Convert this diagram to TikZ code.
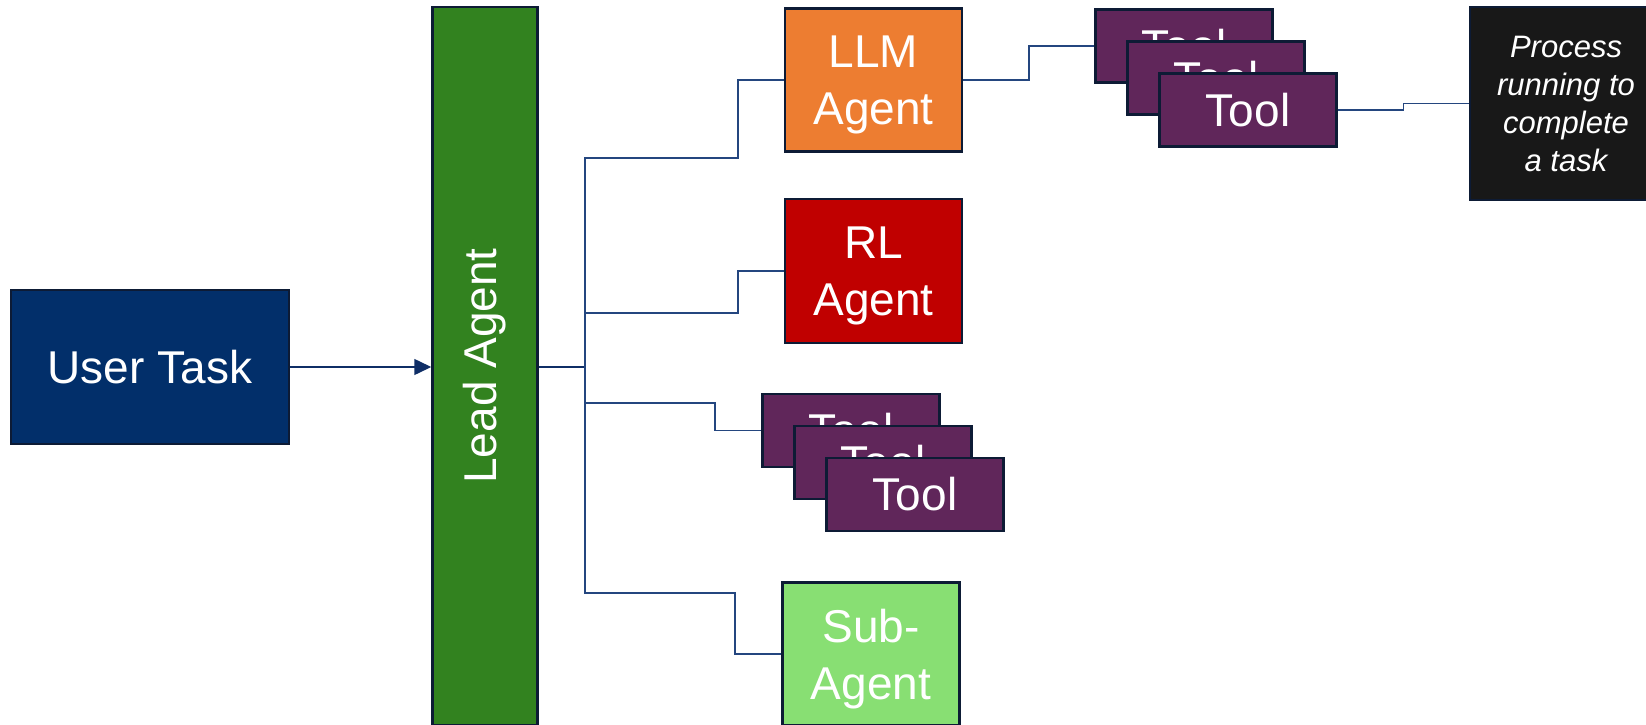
\documentclass[tikz,border=0pt]{standalone}
\usepackage{fontspec}
\setmainfont{Liberation Sans}
\usetikzlibrary{arrows.meta}

\definecolor{usernavy}{HTML}{022F6A}
\definecolor{leadgreen}{HTML}{32821F}
\definecolor{llmorange}{HTML}{ED7D31}
\definecolor{rlred}{HTML}{C00000}
\definecolor{toolpurple}{HTML}{60265A}
\definecolor{subgreen}{HTML}{88DF73}
\definecolor{procblack}{HTML}{181818}
\definecolor{edgenavy}{HTML}{0D1B35}
\definecolor{linkblue}{HTML}{24467F}
\definecolor{arrownavy}{HTML}{0F2E66}

\begin{document}
\begin{tikzpicture}[x=1pt, y=-1pt,
  box/.style={draw=edgenavy, line width=2.5pt, text=white, inner sep=0pt,
    align=center, font=\fontsize{46}{57}\selectfont},
  agentbox/.style={box, text depth=0pt, minimum width=177pt, minimum height=143pt},
  toolbox/.style={box, fill=toolpurple, minimum width=177pt, minimum height=73pt},
  link/.style={draw=linkblue, line width=1.5pt},
]
\useasboundingbox (0,0) rectangle (1646,725);
\clip (0,0) rectangle (1646,725);

% main blocks
\node[box, fill=usernavy, minimum width=278pt, minimum height=154pt] (user) at (150,367) {User Task};
\node[box, fill=leadgreen, minimum width=105pt, minimum height=718pt] (lead) at (485,366) {\rotatebox{90}{Lead Agent}};

% agents
\node[agentbox, fill=llmorange] (llm) at (873.5,80) {LLM\\Agent};
\node[agentbox, fill=rlred, minimum height=144pt] (rl) at (873.5,271) {RL\\Agent};
\node[agentbox, fill=subgreen] (sub) at (871,654) {Sub-\\Agent};

% stacked tools under the lead agent
\node[toolbox] (ma) at (851,430.5) {Tool};
\node[toolbox] (mb) at (883,462.5) {Tool};
\node[toolbox] (mc) at (915,494.5) {Tool};

% stacked tools used by the LLM agent
\node[toolbox] (ta) at (1184,46) {Tool};
\node[toolbox] (tb) at (1216,78) {Tool};
\node[toolbox] (tc) at (1248,110) {Tool};

% running process
\node[box, fill=procblack, minimum width=192pt, minimum height=193pt,
  font=\fontsize{31}{38}\selectfont\itshape] (proc) at (1566,103.5)
  {Process\\running to\\complete\\a task};

% connector bend points
\coordinate (trunk) at (585,367);
\coordinate (bllm) at (738,158);
\coordinate (brl) at (738,313);
\coordinate (btool) at (715,403);
\coordinate (bsub) at (735,593);
\coordinate (btop) at (1029,80);
\coordinate (bproc) at (1403.5,110);

% connectors
\draw[link, draw=arrownavy, -{Triangle[length=17pt,width=16pt]}] (user.east) -- (user.east -| lead.west);
\draw[link, draw=arrownavy] (trunk -| lead.east) -- (trunk);
\draw[link] (trunk) |- (bllm) |- (llm.west);
\draw[link] (trunk |- brl) -- (brl) |- (rl.west);
\draw[link] (trunk |- btool) -- (btool) |- (ma.west);
\draw[link] (trunk) |- (bsub) |- (sub.west);
\draw[link] (llm.east) -- (btop) |- (ta.west);
\draw[link] (tc.east) -- (bproc) |- (proc.west);
\end{tikzpicture}
\end{document}
